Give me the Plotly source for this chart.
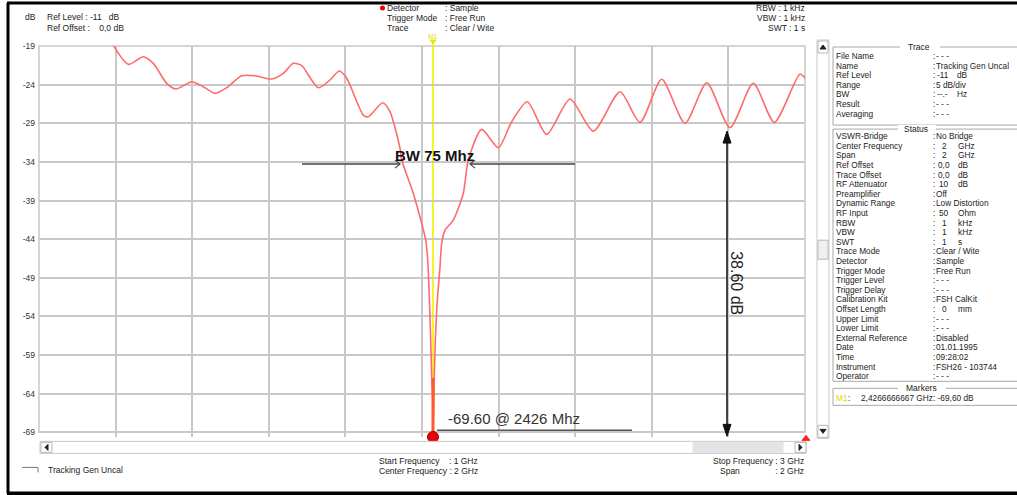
import plotly.graph_objects as go

# ---- measured trace (MHz, dB) ----
freq_mhz = [1582.7, 1630.5, 1669.6, 1695.7, 1730.7, 1755.0, 1796.0, 1826.3, 1856.8, 1887.4,
            1926.5, 1961.3, 2004.9, 2035.2, 2061.3, 2083.2, 2126.6, 2157.1, 2181.4, 2200.7,
            2244.0, 2257.1, 2294.7, 2313.8, 2339.9, 2344.3, 2374.6, 2396.5, 2407.0, 2412.2,
            2418.2, 2420.8, 2422.6, 2425.3, 2426.0, 2428.1, 2429.4, 2431.3, 2433.9, 2437.3,
            2444.3, 2448.7, 2457.4, 2479.0, 2505.1, 2518.2, 2553.2, 2596.5, 2631.5, 2672.3,
            2722.9, 2783.7, 2844.6, 2914.3, 2966.5, 3023.2, 3084.0, 3140.7, 3201.5, 3262.3,
            3317.2, 3384.3, 3399.2]
level_db = [-18.2, -21.37, -20.39, -21.24, -23.83, -24.57, -23.62, -24.27, -25.13, -24.40,
            -22.85, -22.85, -23.27, -22.54, -21.24, -21.55, -24.40, -23.40, -22.24, -23.18,
            -27.94, -28.16, -26.34, -27.51, -32.25, -33.76, -38.08, -41.96, -44.12, -46.72,
            -54.06, -58.37, -61.83, -64.84, -69.6, -64.84, -61.83, -58.37, -54.91, -51.89,
            -47.58, -44.55, -42.83, -41.53, -38.08, -33.76, -29.79, -32.17, -28.80, -26.21,
            -30.44, -25.86, -30.01, -24.92, -28.88, -23.31, -29.01, -23.75, -29.58, -23.83,
            -28.88, -22.63, -23.27]

marker_freq = 2426
marker_level = -69.60
bw_label = "BW 75 Mhz"
delta_label = "38.60 dB"

y_ticks = [-19, -24, -29, -34, -39, -44, -49, -54, -59, -64, -69]
x_start, x_span, x_div = 1397.3, 2000, 200

header_left = [("dB", "Ref Level : -11   dB"), ("", "Ref Offset :    0,0 dB")]
header_mid = [("Detector", ": Sample"), ("Trigger Mode", ": Free Run"), ("Trace", ": Clear / Wite")]
header_right = ["RBW : 1 kHz", "VBW : 1 kHz", "SWT : 1 s"]

trace_rows = [("File Name", "- - -", ""), ("Name", "Tracking Gen Uncal", ""),
              ("Ref Level", "-11", "dB"), ("Range", "5 dB/div", ""), ("BW", "--.-", "Hz"),
              ("Result", "- - -", ""), ("Averaging", "- - -", "")]
status_rows = [("VSWR-Bridge", "No Bridge", ""), ("Center Frequency", "2", "GHz"),
               ("Span", "2", "GHz"), ("Ref Offset", "0,0", "dB"), ("Trace Offset", "0,0", "dB"),
               ("RF Attenuator", "10", "dB"), ("Preamplifier", "Off", ""),
               ("Dynamic Range", "Low Distortion", ""), ("RF Input", "50", "Ohm"),
               ("RBW", "1", "kHz"), ("VBW", "1", "kHz"), ("SWT", "1", "s"),
               ("Trace Mode", "Clear / Wite", ""), ("Detector", "Sample", ""),
               ("Trigger Mode", "Free Run", ""), ("Trigger Level", "- - -", ""),
               ("Trigger Delay", "- - -", ""), ("Calibration Kit", "FSH CalKit", ""),
               ("Offset Length", "0", "mm"), ("Upper Limit", "- - -", ""),
               ("Lower Limit", "- - -", ""), ("External Reference", "Disabled", ""),
               ("Date", "01.01.1995", ""), ("Time", "09:28:02", ""),
               ("Instrument", "FSH26 - 103744", ""), ("Operator", "- - -", "")]
footer_left = ["Start Frequency    : 1 GHz", "Center Frequency : 2 GHz"]
footer_right = ["Stop Frequency : 3 GHz", "Span               : 2 GHz"]

# ---- page geometry (pixels) ----
W, H = 1017, 495
PL, PR, PT, GB = 39, 805, 46, 432          # GB: pixel row of the lowest gridline
y_top, y_grid_bottom = y_ticks[0], y_ticks[-1]
y_floor = min(marker_level, y_grid_bottom)  # axis floor keeps the marker inside the range
PB = PT + (y_top - y_floor) / (y_top - y_grid_bottom) * (GB - PT)
FONT = "Liberation Sans, Arial, sans-serif"


def px(x):
    return (x - PL) / (PR - PL)


def py(y):
    return (PB - y) / (PB - PT)


annotations = []
shapes = []


def text(x, y, s, size=8.5, color="#222", anchor="left", **kw):
    annotations.append(dict(x=px(x), y=py(y), xref="paper", yref="paper", text=s,
                            showarrow=False, xanchor=anchor, yanchor="middle",
                            font=dict(family=FONT, size=size, color=color), **kw))


def line(x0, y0, x1, y1, color="#999", width=1, layer="above"):
    shapes.append(dict(type="line", xref="paper", yref="paper", x0=px(x0), y0=py(y0),
                       x1=px(x1), y1=py(y1), line=dict(color=color, width=width), layer=layer))


def rect(x0, y0, x1, y1, line_color="#aaa", fill="rgba(0,0,0,0)", width=1, layer="above"):
    shapes.append(dict(type="rect", xref="paper", yref="paper", x0=px(x0), y0=py(y0),
                       x1=px(x1), y1=py(y1), line=dict(color=line_color, width=width),
                       fillcolor=fill, layer=layer))


def poly(points, color, fill=None, width=1):
    d = "M " + " L ".join(f"{px(a)},{py(b)}" for a, b in points)
    if fill:
        d += " Z"
    shapes.append(dict(type="path", xref="paper", yref="paper", path=d,
                       line=dict(color=color, width=width),
                       fillcolor=fill if fill else "rgba(0,0,0,0)"))


fig = go.Figure()

# hide the vertical gridline stubs under the lowest gridline
rect(PL - 1, GB + 1, PR + 1, PB + 1, "#ffffff", "#ffffff", width=0, layer="between")
# plot frame
rect(PL, PT, PR, GB, "#c8c8c8", width=1.5, layer="between")

# yellow marker line M1
fig.add_vline(x=marker_freq, line=dict(color="#f2f200", width=1.2), layer="below")
mx = PL + (marker_freq - x_start) / x_span * (PR - PL)
line(mx, GB, mx, 43, "#f2f200", 1.2, layer="between")
poly([(mx - 3, 40), (mx + 3, 40), (mx, 44)], "#e8e800", fill="#e8e800")
text(mx, 37, "M1", size=6.5, color="#e0d800", anchor="center")

# main spectrum trace
fig.add_trace(go.Scatter(x=freq_mhz, y=level_db, mode="lines",
                         line=dict(color="#ff6b6b", width=1.6, shape="spline", smoothing=0.7),
                         hoverinfo="skip", showlegend=False))
# highlighted marker segment at the notch floor
fig.add_trace(go.Scatter(x=[marker_freq, marker_freq], y=[-62.0, marker_level], mode="lines",
                         line=dict(color="#ff5a2a", width=3), hoverinfo="skip",
                         showlegend=False))
# marker dot
fig.add_trace(go.Scatter(x=[marker_freq], y=[marker_level], mode="markers",
                         marker=dict(color="#e8000b", size=11, line=dict(color="#a00000", width=1)),
                         hoverinfo="skip", showlegend=False, cliponaxis=False))

# bandwidth annotation
bw_y = 164
line(302, bw_y, 400, bw_y, "#444", 1.5)
line(470, bw_y, 575, bw_y, "#444", 1.5)
poly([(395, bw_y - 4), (400, bw_y), (395, bw_y + 4)], "#444", width=1.2)
poly([(475, bw_y - 4), (470, bw_y), (475, bw_y + 4)], "#444", width=1.2)
text(434, 155, f"<b>{bw_label}</b>", size=15, color="#111", anchor="center")

# marker readout
line(437, 430, 632, 430, "#555", 1.5)
text(446, 418, f"{marker_level:.2f} @ {marker_freq} Mhz", size=15, color="#333")

# level difference arrow
ax = 727
line(ax, 140, ax, 426, "#111", 1.5)
poly([(ax - 4, 143), (ax, 131), (ax + 4, 143)], "#111", fill="#111")
poly([(ax - 4, 424), (ax, 436), (ax + 4, 424)], "#111", fill="#111")
text(737, 283, delta_label, size=16, color="#222", anchor="center", textangle=90)

# header block
text(23, 17, header_left[0][0], size=8.5)
text(45, 17, header_left[0][1], size=8.5)
text(45, 28, header_left[1][1], size=8.5)
for i, (k, v) in enumerate(header_mid):
    text(385, 8 + 10 * i, k, size=8.5)
    text(443, 8 + 10 * i, v, size=8.5)
shapes.append(dict(type="circle", xref="paper", yref="paper", x0=px(380), x1=px(385),
                   y0=py(10.5), y1=py(5.5), fillcolor="#ee0000", line=dict(color="#ee0000", width=0)))
for i, s in enumerate(header_right):
    text(807, 8 + 10 * i, s, size=8.5, anchor="right")

# horizontal scrollbar
rect(40, 441, 806, 453, "#c8c8c8", "#ffffff")
rect(693, 442, 783, 452, "#e4e4e4", "#e4e4e4")
rect(41, 442, 52, 452, "#b8b8b8", "#ffffff")
rect(795, 442, 806, 452, "#b8b8b8", "#ffffff")
poly([(48, 444), (45, 447), (48, 450)], "#222", fill="#222")
poly([(799, 444), (802, 447), (799, 450)], "#222", fill="#222")
poly([(802, 440), (810, 440), (806, 435)], "#ff2020", fill="#ff2020")

# vertical scrollbar
rect(817, 40, 829, 438, "#c8c8c8", "#ffffff")
rect(818, 41, 828, 53, "#b8b8b8", "#ffffff")
rect(818, 425, 828, 437, "#b8b8b8", "#ffffff")
rect(818, 240, 828, 259, "#b8b8b8", "#f0f0f0")
poly([(820, 49), (823, 45), (826, 49)], "#222", fill="#222")
poly([(820, 429), (823, 433), (826, 429)], "#222", fill="#222")

# side panel: Trace frame
ROW = 9.6
rect(833, 47, 1030, 125, "#a8a8a8")
rect(900, 43, 940, 51, "#ffffff", "#ffffff", width=0)
text(919, 47, "Trace", size=8.5, anchor="center")
for i, (k, v, u) in enumerate(trace_rows):
    y = 56 + ROW * i
    text(834, y, k, size=8.3)
    text(931, y, ":", size=8.3)
    if u:
        text(935, y, v, size=8.3)
        text(955, y, u, size=8.3)
    else:
        text(934, y, v, size=8.3)

# side panel: Status frame
rect(833, 129, 1030, 381, "#a8a8a8")
rect(898, 125, 936, 133, "#ffffff", "#ffffff", width=0)
text(916, 129, "Status", size=8.5, anchor="center")
for i, (k, v, u) in enumerate(status_rows):
    y = 136 + ROW * i
    text(834, y, k, size=8.3)
    text(931, y, ":", size=8.3)
    if u:
        text(944, y, v, size=8.3, anchor="center")
        text(956, y, u, size=8.3)
    else:
        text(934, y, v, size=8.3)

# side panel: Markers frame
rect(833, 388, 1030, 405, "#a8a8a8")
rect(898, 384, 946, 392, "#ffffff", "#ffffff", width=0)
text(921, 388, "Markers", size=8.5, anchor="center")
text(834, 398, "M1", size=8.3, color="#e6d600")
text(846, 398, ":", size=8.3)
text(859, 398, "2,4266666667 GHz", size=8.3)
text(931, 398, f": {marker_level:.2f} dB".replace(".", ","), size=8.3)

# footer
for i, s in enumerate(footer_left):
    text(377, 461 + 10 * i, s, size=8.5)
for i, s in enumerate(footer_right):
    text(806, 461 + 10 * i, s, size=8.5, anchor="right")
line(22, 467, 38, 467, "#777", 1)
line(38, 467, 38, 472, "#777", 1)
text(46, 470, "Tracking Gen Uncal", size=8.5)

# outer black frame
line(7, 3, 1017, 3, "#000", 3)
line(8, 3, 8, 493, "#000", 3)
line(7, 493, 1017, 493, "#000", 4)

fig.update_layout(
    width=W, height=H, autosize=False,
    margin=dict(l=PL, r=W - PR, t=PT, b=H - PB, pad=0),
    paper_bgcolor="#ffffff", plot_bgcolor="#ffffff",
    xaxis=dict(range=[x_start, x_start + x_span], tick0=x_start, dtick=x_div,
               showticklabels=False, ticks="", showgrid=True, gridcolor="#c8c8c8",
               gridwidth=1.5, zeroline=False, showline=False, fixedrange=True),
    yaxis=dict(range=[y_floor, y_top], tickvals=y_ticks,
               ticktext=[str(t) for t in y_ticks], ticks="", showgrid=True,
               gridcolor="#c8c8c8", gridwidth=1.5, zeroline=False, showline=False,
               fixedrange=True, tickfont=dict(family=FONT, size=8.5, color="#333"),
               ticklabelstandoff=3),
    showlegend=False, font=dict(family=FONT),
)
fig.layout.shapes = list(fig.layout.shapes) + shapes
fig.layout.annotations = annotations

fig.write_html("out.html", config={"displayModeBar": False})
